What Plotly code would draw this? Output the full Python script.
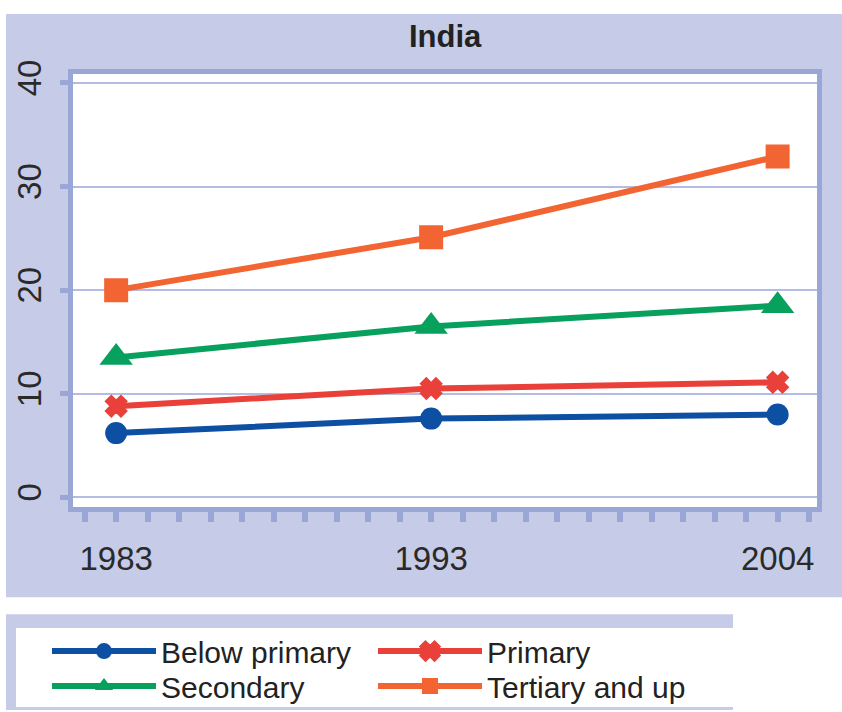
import plotly.graph_objects as go

years = [1983, 1993, 2004]
below_primary = [6.2, 7.6, 8.0]
primary = [8.8, 10.5, 11.1]
secondary = [13.5, 16.5, 18.5]
tertiary = [20.0, 25.1, 32.9]

series_names = ["Below primary", "Primary", "Secondary", "Tertiary and up"]
series_values = [below_primary, primary, secondary, tertiary]
series_colors = ["#0d4fa3", "#e9403a", "#07a05c", "#f26532"]
series_symbols = ["circle", "x", "triangle-up", "square"]
series_sizes = [22, 17, 29, 24]
series_mlw = [0, 3, 0, 0]
series_legend = ["legend", "legend", "legend2", "legend2"]

y_ticks = [0, 10, 20, 30, 40]
x_ticks = [1983, 1993, 2004]

W, H = 842, 712
LAV = "#c6cce8"
EDGE = "#9aa6d6"
FONT = "Liberation Sans, Arial"

fig = go.Figure()
for name, vals, col, sym, sz, mlw, lg in zip(series_names, series_values, series_colors,
                                             series_symbols, series_sizes, series_mlw, series_legend):
    fig.add_trace(go.Scatter(
        x=years, y=vals, name=name, mode="lines+markers",
        line=dict(color=col, width=6),
        marker=dict(symbol=sym, size=sz, color=col, line=dict(width=mlw, color=col)),
        legend=lg,
    ))

def px(x): return x / W
def py(y): return min(1.0, max(0.0, 1 - (y - 13) / 698))

shapes = [
    dict(type="rect", xref="paper", yref="paper", x0=px(6), x1=px(842), y0=py(597), y1=py(6),
         fillcolor=LAV, line=dict(width=0), layer="below"),
    dict(type="rect", xref="x domain", yref="y domain", x0=0, x1=1, y0=0, y1=1,
         fillcolor="white", line=dict(width=0), layer="below"),
    dict(type="rect", xref="paper", yref="paper", x0=px(6), x1=px(733), y0=py(710), y1=py(614),
         fillcolor=LAV, line=dict(width=0), layer="below"),
    dict(type="rect", xref="paper", yref="paper", x0=px(16), x1=px(733), y0=py(707), y1=py(628),
         fillcolor="white", line=dict(width=0), layer="below"),
]

legend_common = dict(
    orientation="h", xanchor="left", yanchor="middle",
    entrywidth=207, entrywidthmode="pixels",
    bgcolor="rgba(0,0,0,0)", borderwidth=0,
    font=dict(size=30, family=FONT, color="#222"),
    traceorder="normal", itemwidth=104,
)

fig.update_layout(
    width=W, height=H,
    margin=dict(l=0, r=0, t=0, b=0),
    paper_bgcolor="white",
    plot_bgcolor="white",
    font=dict(family=FONT, color="#2a2a2a", size=24),
    shapes=shapes,
    annotations=[dict(text="<b>India</b>", xref="paper", yref="paper", x=px(445), y=py(36),
                      xanchor="center", yanchor="middle",
                      showarrow=False, font=dict(size=31, family=FONT, color="#222"))],
    xaxis=dict(
        domain=[px(73), px(817)],
        range=[1981.63, 2005.25],
        tickvals=x_ticks, ticktext=[str(v) for v in x_ticks],
        showgrid=False, zeroline=False,
        showline=True, linecolor=EDGE, linewidth=5, mirror=True,
        ticks="outside", ticklen=10, tickwidth=6, tickcolor=EDGE,
        minor=dict(dtick=1, tick0=1983, ticks="outside", ticklen=10, tickwidth=6, tickcolor=EDGE, showgrid=False),
        tickfont=dict(size=33, family=FONT, color="#2a2a2a"),
        ticklabelstandoff=8,
    ),
    yaxis=dict(
        domain=[py(507), py(73)],
        range=[-0.96, 40.87],
        tickvals=y_ticks,
        showgrid=True, gridcolor="#b4bce3", gridwidth=1.5,
        zeroline=False,
        showline=True, linecolor=EDGE, linewidth=5, mirror=True,
        ticks="outside", ticklen=8, tickwidth=5, tickcolor=EDGE,
        tickangle=-90,
        tickfont=dict(size=33, family=FONT, color="#2a2a2a"),
        ticklabelstandoff=6,
    ),
    legend=dict(x=px(47), y=py(651), **legend_common),
    legend2=dict(x=px(47), y=py(686), **legend_common),
)

post = (
    "document.documentElement.style.margin='0';document.documentElement.style.padding='0';"
    "document.body.style.margin='0';document.body.style.padding='0';"
)
fig.write_html("out.html", config={"displayModeBar": False}, post_script=post)
